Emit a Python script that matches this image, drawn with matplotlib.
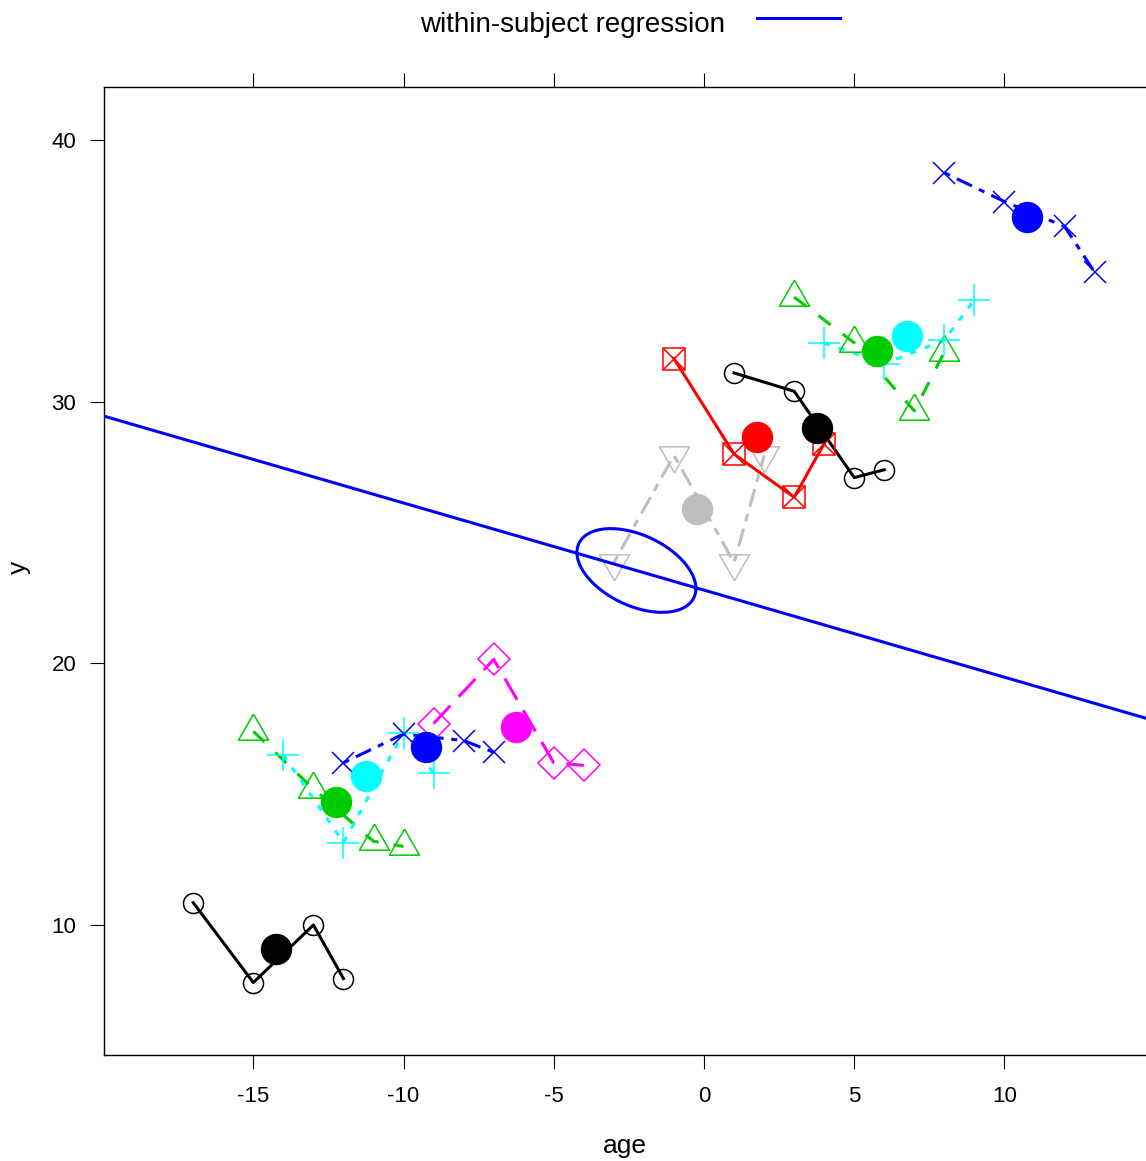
"""
plot.py
Longitudinal scatter: age vs y for 11 subjects, with subject means,
the within-subject regression line and a confidence ellipse.
"""

import numpy as np
import matplotlib
matplotlib.use("Agg")
import matplotlib.pyplot as plt
from matplotlib.lines import Line2D

plt.rcParams["font.family"] = ["Liberation Sans", "DejaVu Sans"]

# ─── Data ─────────────────────────────────────────────────────────────────────
age_a = [-17, -15, -13, -12]        # black circles (low)
y_a   = [10.85, 7.8, 10.0, 7.95]
age_b = [-15, -13, -11, -10]        # green triangles (low)
y_b   = [17.4, 15.2, 13.2, 13.0]
age_c = [-14, -12, -10, -9]         # cyan plus (low)
y_c   = [16.5, 13.15, 17.35, 15.8]
age_d = [-12, -10, -8, -7]          # blue x (low)
y_d   = [16.2, 17.3, 17.05, 16.6]
age_e = [-9, -7, -5, -4]            # magenta diamonds
y_e   = [17.7, 20.15, 16.2, 16.1]
age_f = [-3, -1, 1, 2]              # gray down triangles
y_f   = [23.85, 27.95, 23.85, 27.95]
age_g = [-1, 1, 3, 4]               # red boxed x
y_g   = [31.65, 28.0, 26.35, 28.4]
age_h = [1, 3, 5, 6]                # black circles (high)
y_h   = [31.1, 30.4, 27.1, 27.4]
age_i = [3, 5, 7, 8]                # green triangles (high)
y_i   = [34.0, 32.25, 29.65, 31.9]
age_j = [4, 6, 8, 9]                # cyan plus (high)
y_j   = [32.25, 31.45, 32.35, 33.9]
age_k = [8, 10, 12, 13]             # blue x (high)
y_k   = [38.75, 37.65, 36.7, 34.95]

# subject means (filled dots), same order as above
mean_age = [-14.25, -12.25, -11.25, -9.25, -6.25, -0.25, 1.75, 3.75, 5.75, 6.75, 10.75]
mean_y   = [9.1, 14.7, 15.7, 16.8, 17.55, 25.9, 28.65, 29.0, 31.95, 32.5, 37.05]

# within-subject regression line
reg_intercept = 22.8
reg_slope     = -0.333

# ellipse: centre, half-widths and phase shift
ell_center = (-2.25, 23.55)
ell_radii  = (1.98, 1.60)
ell_phase  = 1.125

# ─── Styles ───────────────────────────────────────────────────────────────────
GREEN = "#00CD00"
GRAY  = "#BEBEBE"
TRI_UP   = [(0, 0.577), (-0.5, -0.289), (0.5, -0.289), (0, 0.577)]
TRI_DOWN = [(0, -0.577), (-0.5, 0.289), (0.5, 0.289), (0, -0.577)]

SOLID    = "-"
DASHED   = (0, (5, 5))
DOTTED   = (0, (2, 3))
DOTDASH  = (0, (2, 2.5, 5.5, 2.5))
LONGDASH = (0, (8, 4))
TWODASH  = (0, (2.5, 2.5, 6, 2.5))

subjects = [
    (age_a, y_a, "black",   "o",      14.4, SOLID,    0),
    (age_b, y_b, GREEN,     TRI_UP,   25,   DASHED,   1),
    (age_c, y_c, "#00FFFF", "+",      23,   DOTTED,   2),
    (age_d, y_d, "#0000FF", "x",      16,   DOTDASH,  3),
    (age_e, y_e, "#FF00FF", "D",      16.3, LONGDASH, 4),
    (age_f, y_f, GRAY,      TRI_DOWN, 25,   TWODASH,  5),
    (age_g, y_g, "#FF0000", "s",      16,   SOLID,    6),
    (age_h, y_h, "black",   "o",      14.4, SOLID,    7),
    (age_i, y_i, GREEN,     TRI_UP,   25,   DASHED,   8),
    (age_j, y_j, "#00FFFF", "+",      23,   DOTTED,   9),
    (age_k, y_k, "#0000FF", "x",      16,   DOTDASH,  10),
]

LW  = 2.2
MEW = 1.1

# ─── Figure ───────────────────────────────────────────────────────────────────
fig = plt.figure(figsize=(11.46, 11.61), dpi=100)
ax = fig.add_axes([104 / 1146, 1 - 1055 / 1161, 1 - 104 / 1146, (1055 - 87) / 1161])

for xs, ys, col, mk, ms, ls, k in subjects:
    ax.plot(xs, ys, color=col, linestyle=ls, linewidth=LW, zorder=2)
    ax.plot(xs, ys, linestyle="none", marker=mk, markersize=ms,
            markerfacecolor="none", markeredgecolor=col,
            markeredgewidth=MEW, zorder=3)
    if mk == "s":
        # boxed x
        ax.plot(xs, ys, linestyle="none", marker="x", markersize=ms,
                markeredgecolor=col, markeredgewidth=MEW, zorder=3)
    ax.plot(mean_age[k], mean_y[k], linestyle="none", marker="o",
            markersize=21.6, color=col, zorder=4)

# regression line and ellipse
ax.axline((0, reg_intercept), slope=reg_slope, color="#0000FF",
          linewidth=LW, zorder=5)
t = np.linspace(0, 2 * np.pi, 300)
ex = ell_center[0] + ell_radii[0] * np.cos(t)
ey = ell_center[1] - ell_radii[1] * np.cos(t - ell_phase)
ax.plot(ex, ey, color="#0000FF", linewidth=LW, zorder=5)

# axes
ax.set_xlim(-19.97, 14.71)
ax.set_ylim(5.03, 42.03)
ax.set_xticks([-15, -10, -5, 0, 5, 10])
ax.set_xticklabels(["-15", "-10", "-5", "0", "5", "10"])
ax.set_yticks([10, 20, 30, 40])
ax.set_yticklabels(["10", "20", "30", "40"])
ax.tick_params(axis="x", direction="out", length=10, width=0.8,
               top=True, labeltop=False, labelsize=16, pad=12)
ax.tick_params(axis="y", direction="out", length=10, width=0.8,
               right=False, labelsize=16, pad=10)
for side in ["left", "bottom", "top"]:
    ax.spines[side].set_linewidth(1.0)
ax.spines["right"].set_visible(False)

# axis labels
fig.text(625 / 1146, 1 - 1153 / 1161, "age", ha="center", va="baseline", fontsize=19)
fig.text(19 / 1146, 1 - 567 / 1161, "y", rotation=90, ha="center", va="center", fontsize=19)

# key at the top
fig.text(725 / 1146, 1 - 32 / 1161, "within-subject regression",
         ha="right", va="baseline", fontsize=20)
fig.add_artist(Line2D([757 / 1146, 840 / 1146], [1 - 17.5 / 1161] * 2,
                      transform=fig.transFigure, color="#0000FF", linewidth=LW))

fig.savefig("out.png", dpi=100)
